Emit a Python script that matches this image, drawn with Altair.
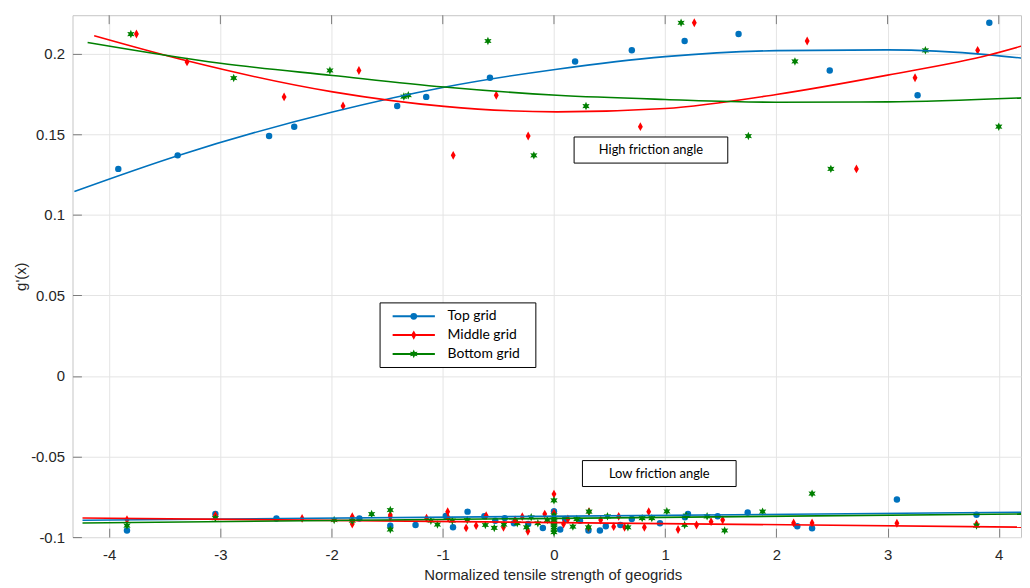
import math
import altair as alt
import pandas as pd

SERIES = ["Top grid", "Middle grid", "Bottom grid"]
COLORS = ["#0072BD", "#FF0000", "#008000"]

# ---- High friction angle scatter ----
hi_top_x = [-3.918, -3.384, -2.562, -2.336, -1.41, -1.149, -0.576, 0.19, 0.70, 1.175, 1.66, 2.48, 3.27, 3.915]
hi_top_y = [0.1286, 0.137, 0.149, 0.1548, 0.1676, 0.1733, 0.1852, 0.1953, 0.2022, 0.208, 0.2123, 0.1897, 0.1743, 0.2193]
hi_mid_x = [-3.755, -3.30, -2.427, -1.897, -1.754, -0.906, -0.519, -0.232, 0.777, 1.262, 2.277, 2.72, 3.247, 3.81]
hi_mid_y = [0.2123, 0.195, 0.1733, 0.1676, 0.1897, 0.137, 0.1743, 0.149, 0.1548, 0.2193, 0.208, 0.1286, 0.1852, 0.2022]
hi_bot_x = [-3.805, -2.88, -2.015, -1.35, -1.31, -0.594, -0.181, 0.288, 1.143, 1.748, 2.167, 2.49, 3.34, 4.0]
hi_bot_y = [0.2123, 0.185, 0.1897, 0.1735, 0.1743, 0.208, 0.137, 0.1676, 0.2193, 0.149, 0.1953, 0.1286, 0.2022, 0.1548]

# ---- Low friction angle scatter ----
lo_top_x = [-3.84, -3.045, -2.496, -1.75, -1.472, -1.245, -0.973, -0.908, -0.777, -0.626, -0.528, -0.443, -0.36,
            -0.232, -0.10, 0.0, 0.0, 0.056, 0.10, 0.234, 0.31, 0.413, 0.466, 0.597, 0.70, 0.953, 1.178, 1.205,
            1.472, 1.742, 2.188, 2.321, 3.084, 3.80]
lo_top_y = [-0.0959, -0.0857, -0.0884, -0.0884, -0.0929, -0.0925, -0.0869, -0.0939, -0.0842, -0.0871, -0.0898,
            -0.0882, -0.0914, -0.0918, -0.0943, -0.084, -0.091, -0.0953, -0.0888, -0.0898, -0.0959, -0.0959,
            -0.0933, -0.0925, -0.0888, -0.0914, -0.0877, -0.0857, -0.0871, -0.0847, -0.0933, -0.0945, -0.0767, -0.0861]
lo_mid_x = [-3.84, -3.045, -2.265, -1.814, -1.814, -1.472, -1.472, -1.146, -0.956, -0.95, -0.79, -0.70, -0.61,
            -0.454, -0.35, -0.285, -0.235, -0.083, 0.0, 0.0, 0.0, 0.086, 0.125, 0.315, 0.31, 0.42, 0.537, 0.582,
            0.635, 0.813, 0.852, 1.116, 1.282, 1.413, 1.517, 2.155, 2.321, 3.084, 3.80]
lo_mid_y = [-0.0892, -0.0865, -0.0884, -0.0873, -0.0919, -0.0863, -0.0876, -0.0882, -0.0842, -0.0882, -0.0943,
            -0.0929, -0.0867, -0.0939, -0.0894, -0.0873, -0.0964, -0.0857, -0.0733, -0.085, -0.0875, -0.0919,
            -0.0888, -0.0842, -0.0941, -0.0894, -0.0935, -0.0871, -0.0939, -0.0939, -0.0842, -0.0953, -0.0925,
            -0.0904, -0.0894, -0.0912, -0.0912, -0.0914, -0.0919]
lo_bot_x = [-3.84, -3.045, -1.977, -1.814, -1.64, -1.472, -1.472, -1.107, -1.048, -0.914, -0.78, -0.617, -0.537,
            -0.45, -0.33, -0.247, -0.205, -0.145, -0.06, 0.0, 0.0, 0.0, 0.0, 0.0, 0.0, 0.0, 0.0, 0.0, 0.17, 0.205,
            0.315, 0.31, 0.481, 0.665, 0.793, 0.88, 1.015, 1.175, 1.19, 1.377, 1.535, 1.876, 2.321, 3.80]
lo_bot_y = [-0.0929, -0.0882, -0.0894, -0.0898, -0.0857, -0.0832, -0.0953, -0.0898, -0.0922, -0.0898, -0.0894,
            -0.0925, -0.0943, -0.0922, -0.0914, -0.0939, -0.0877, -0.0914, -0.0894, -0.0772, -0.0865, -0.088,
            -0.0895, -0.091, -0.0925, -0.094, -0.0955, -0.097, -0.0935, -0.0888, -0.0842, -0.0939, -0.0871,
            -0.0939, -0.0882, -0.0882, -0.084, -0.0925, -0.0867, -0.0871, -0.0959, -0.0842, -0.073, -0.0929]

# ---- Fitted curves ----
fit_hi_top_x = [-4.313, -3.384, -1.992, -0.988, 0.027, 1.0, 2.0, 3.0, 3.915, 4.21]
fit_hi_top_y = [0.1146, 0.1368, 0.1639, 0.1793, 0.1905, 0.1983, 0.202, 0.2025, 0.1994, 0.1973]
fit_hi_mid_x = [-4.135, -3.30, -1.99, -0.988, 0.027, 1.0, 2.0, 3.0, 3.92, 4.21]
fit_hi_mid_y = [0.2113, 0.1957, 0.1764, 0.1674, 0.164, 0.1661, 0.1748, 0.1868, 0.1994, 0.2049]
fit_hi_bot_x = [-4.194, -3.0, -1.99, -0.988, 0.027, 1.0, 2.0, 3.0, 4.21]
fit_hi_bot_y = [0.2071, 0.1942, 0.1866, 0.1794, 0.1743, 0.1717, 0.170, 0.1702, 0.1727]
fit_lo_top_x = [-4.24, 4.2]
fit_lo_top_y = [-0.0895, -0.0846]
fit_lo_mid_x = [-4.24, 4.2]
fit_lo_mid_y = [-0.0881, -0.0938]
fit_lo_bot_x = [-4.24, 4.2]
fit_lo_bot_y = [-0.0912, -0.0856]

# ---- Annotation boxes ----
ann_text = ["High friction angle", "Low friction angle"]
ann_x1 = [0.181, 0.256]
ann_x2 = [1.563, 1.638]
ann_y1 = [0.1484, -0.0525]
ann_y2 = [0.1322, -0.0686]

# ---- Legend (placed in data units) ----
leg_box_x = [-1.564, -0.163]
leg_box_y = [0.0454, 0.0053]
leg_row_y = [0.0371, 0.0254, 0.0137]
leg_line_x = [-1.451, -1.071]
leg_mark_x = -1.261
leg_text_x = -0.957

X_TICKS = [-4, -3, -2, -1, 0, 1, 2, 3, 4]
Y_TICKS = [-0.1, -0.05, 0, 0.05, 0.1, 0.15, 0.2]

# ---------------------------------------------------------------
rows = []
for s, xs_, ys_ in [(SERIES[0], hi_top_x, hi_top_y), (SERIES[1], hi_mid_x, hi_mid_y), (SERIES[2], hi_bot_x, hi_bot_y),
                    (SERIES[0], lo_top_x, lo_top_y), (SERIES[1], lo_mid_x, lo_mid_y), (SERIES[2], lo_bot_x, lo_bot_y)]:
    for x, y in zip(xs_, ys_):
        rows.append({"x": x, "y": y, "series": s})
pts = pd.DataFrame(rows)

crows = []
for s, g, xs_, ys_ in [(SERIES[0], "hi", fit_hi_top_x, fit_hi_top_y), (SERIES[1], "hi", fit_hi_mid_x, fit_hi_mid_y),
                       (SERIES[2], "hi", fit_hi_bot_x, fit_hi_bot_y), (SERIES[0], "lo", fit_lo_top_x, fit_lo_top_y),
                       (SERIES[1], "lo", fit_lo_mid_x, fit_lo_mid_y), (SERIES[2], "lo", fit_lo_bot_x, fit_lo_bot_y)]:
    for x, y in zip(xs_, ys_):
        crows.append({"x": x, "y": y, "series": s, "grp": s + g})
curves = pd.DataFrame(crows)

ann = pd.DataFrame({"label": ann_text, "x1": ann_x1, "x2": ann_x2, "y1": ann_y1, "y2": ann_y2})
ann["xm"] = (ann["x1"] + ann["x2"]) / 2
ann["ym"] = (ann["y1"] + ann["y2"]) / 2

leg_box = pd.DataFrame({"x1": [leg_box_x[0]], "x2": [leg_box_x[1]], "y1": [leg_box_y[0]], "y2": [leg_box_y[1]]})
leg = pd.DataFrame({"series": SERIES, "y": leg_row_y, "x1": leg_line_x[0], "x2": leg_line_x[1],
                    "xm": leg_mark_x, "xt": leg_text_x})
ticks_df = pd.DataFrame({"t": X_TICKS})


def f(v):
    return f"{v:.4f}".rstrip("0").rstrip(".")


def star(R, r, n=6):
    pts_ = []
    for k in range(2 * n):
        a = -math.pi / 2 + k * math.pi / n
        rad = R if k % 2 == 0 else r
        pts_.append((rad * math.cos(a), rad * math.sin(a)))
    return "M" + "L".join(f"{f(px)},{f(py)}" for px, py in pts_) + "Z"


DIAMOND = "M0,-1L0.55,0L0,1L-0.55,0Z"
STAR = star(1.0, 0.5)
SHAPES = [("circle", 42), (DIAMOND, 80), (STAR, 72)]

xs = alt.Scale(domain=[-4.33, 4.2], nice=False, zero=False)
ys = alt.Scale(domain=[-0.1, 0.224], nice=False, zero=False)
cs = alt.Scale(domain=SERIES, range=COLORS)

AX_FONT = "Liberation Sans"
TXT = "#262626"
TICK = "#7a7a7a"
GRID = "#e4e4e4"

x_axis = alt.Axis(values=X_TICKS, labelExpr="'' + datum.value", orient="bottom", offset=-9, tickSize=9,
                  tickColor=TICK, domain=False, grid=True, gridColor=GRID, labelPadding=11, labelFont=AX_FONT,
                  labelFontSize=15, labelColor=TXT, labelFlush=False, labelOverlap=False,
                  title="Normalized tensile strength of geogrids", titleFont=AX_FONT, titleFontSize=15,
                  titleFontWeight="normal", titleColor=TXT, titlePadding=5, titleX=484)
y_axis = alt.Axis(values=Y_TICKS, labelExpr="'' + datum.value", orient="left", offset=-9, tickSize=9,
                  tickColor=TICK, domain=False, grid=True, gridColor=GRID, labelPadding=8, labelFont=AX_FONT,
                  labelFontSize=15, labelColor=TXT, labelFlush=False, labelOverlap=False,
                  title="g'(x)", titleFont=AX_FONT, titleFontSize=15, titleFontWeight="normal",
                  titleColor=TXT, titlePadding=2)


def X(field):
    return alt.X(field, type="quantitative", scale=xs, axis=x_axis)


def Y(field):
    return alt.Y(field, type="quantitative", scale=ys, axis=y_axis)


COL = alt.Color("series:N", scale=cs, legend=None)

base_pts = alt.Chart(pts)
point_layers = []
for s, (shape, size) in zip(SERIES, SHAPES):
    point_layers.append(
        base_pts.transform_filter(alt.datum.series == s)
        .mark_point(shape=shape, filled=True, size=size, opacity=1, strokeWidth=0)
        .encode(x=X("x"), y=Y("y"), color=COL)
    )

lines = alt.Chart(curves).mark_line(strokeWidth=1.6, interpolate="monotone", clip=True).encode(
    x=X("x"), y=Y("y"), color=COL, detail="grp:N",
)

top_ticks = alt.Chart(ticks_df).mark_rule(color=TICK, strokeWidth=1).encode(
    x=X("t"), y=alt.value(0), y2=alt.value(9),
)

boxes = alt.Chart(ann).mark_rect(fill="white", stroke="black", strokeWidth=1).encode(
    x=X("x1"), x2="x2:Q", y=Y("y1"), y2="y2:Q",
)
texts = alt.Chart(ann).mark_text(font="Lato", fontSize=13, color="black", align="center",
                                 baseline="middle").encode(
    x=X("xm"), y=Y("ym"), text="label:N",
)

# legend box drawn from the small legend table
leg_frame = alt.Chart(leg_box).mark_rect(fill="white", stroke="black", strokeWidth=1).encode(
    x=X("x1"), x2="x2:Q", y=Y("y1"), y2="y2:Q",
)
leg_lines = alt.Chart(leg).mark_rule(strokeWidth=2).encode(
    x=X("x1"), x2="x2:Q", y=Y("y"), color=COL,
)
leg_marks = []
for s, (shape, size) in zip(SERIES, SHAPES):
    leg_marks.append(
        alt.Chart(leg).transform_filter(alt.datum.series == s)
        .mark_point(shape=shape, filled=True, size=size * 1.1, opacity=1, strokeWidth=0)
        .encode(x=X("xm"), y=Y("y"), color=COL)
    )
leg_text = alt.Chart(leg).mark_text(font="Lato", fontSize=14, color="black", align="left",
                                    baseline="middle").encode(
    x=X("xt"), y=Y("y"), text="series:N",
)

chart = alt.layer(*point_layers, lines, top_ticks, boxes, texts, leg_frame, leg_lines, *leg_marks,
                  leg_text).properties(
    width=956, height=526,
    autosize=alt.AutoSizeParams(type="none"),
    padding={"left": 65, "top": 5, "right": 1, "bottom": 45},
    background="white",
).configure_view(stroke="#c4c4c4", strokeWidth=1)

chart.save("out.html", embed_options={"renderer": "svg", "actions": False})
